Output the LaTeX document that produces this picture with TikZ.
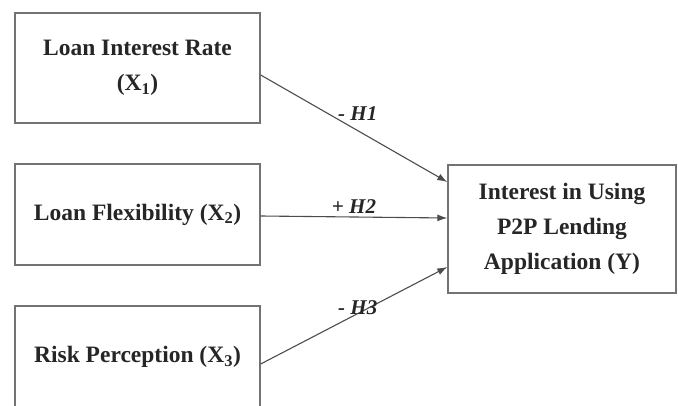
\documentclass[tikz,border=0pt]{standalone}
\usepackage{fontspec}
\setmainfont{Liberation Serif}
\usetikzlibrary{arrows.meta}
\begin{document}
\begin{tikzpicture}[x=1pt,y=-1pt,
  box/.style={draw=black!55, line width=1.4pt, fill=white, align=center, inner sep=0pt,
    font=\fontsize{23.5}{35}\selectfont\bfseries, text=black!85},
  link/.style={draw=black!70, line width=1.1pt, -{Latex[length=10pt,width=7pt]}},
  hlab/.style={font=\fontsize{21}{24}\selectfont\bfseries\itshape, text=black!85, inner sep=0pt}]
\useasboundingbox (0,0) rectangle (678,406);
\clip (0,0) rectangle (678,406);
\node[box, minimum width=245pt, minimum height=110pt] (b1) at (137.5,68) {Loan Interest Rate\\(X\textsubscript{1})};
\node[box, minimum width=245pt, minimum height=101pt] (b2) at (137.5,214.5) {Loan Flexibility (X\textsubscript{2})};
\node[box, minimum width=245pt, minimum height=102pt] (b3) at (137.5,357) {Risk Perception (X\textsubscript{3})};
\node[box, minimum width=228pt, minimum height=128pt] (y) at (562,229) {Interest in Using\\P2P Lending\\Application (Y)};
\draw[link] ([yshift=-7pt]b1.east) -- node[hlab, pos=0.52, above=10pt] {- H1} ([yshift=47pt]y.west);
\draw[link] ([yshift=-1.5pt]b2.east) -- node[hlab, pos=0.5, above=3pt] {+ H2} ([yshift=11pt]y.west);
\draw[link] ([yshift=-7pt]b3.east) -- node[hlab, pos=0.52, above=-2pt] {- H3} ([yshift=-38pt]y.west);
\end{tikzpicture}
\end{document}
